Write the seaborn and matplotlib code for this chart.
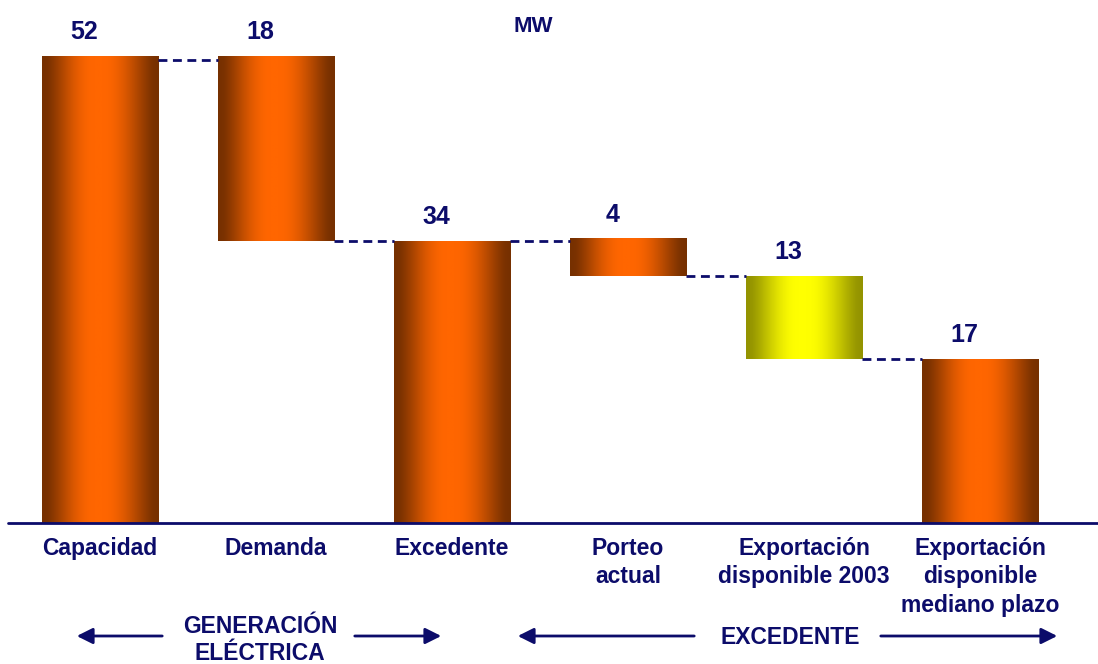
import numpy as np
import matplotlib
matplotlib.use("Agg")
import matplotlib.pyplot as plt
import seaborn as sns
import pandas as pd
from matplotlib.colors import to_rgb

# ---- data ----
categories = ["Capacidad", "Demanda", "Excedente", "Porteo\nactual",
              "Exportación\ndisponible 2003", "Exportación\ndisponible\nmediano plazo"]
bar_low = [0.0, 31.4, 0.0, 27.5, 18.3, 0.0]      # bottom of each bar (as drawn)
bar_high = [52.0, 52.0, 31.4, 31.7, 27.5, 18.3]  # top of each bar (as drawn)
value_labels = ["52", "18", "34", "4", "13", "17"]
bar_kind = ["orange", "orange", "orange", "orange", "yellow", "orange"]
unit_label = "MW"
group_labels = ["GENERACIÓN\nELÉCTRICA", "EXCEDENTE"]

NAVY = "#0c0c6a"
grad = {"orange": ("#763000", "#ff6600"), "yellow": ("#939300", "#ffff00")}

sns.set_theme(style="white")
plt.rcParams["font.family"] = ["Liberation Sans", "DejaVu Sans"]

fig = plt.figure(figsize=(10.98, 6.64), dpi=100)
W, H = 1098, 664
base_px = 523
ax = fig.add_axes([0, (H - base_px) / H, 1, base_px / H])

df = pd.DataFrame({"cat": categories,
                   "h": np.array(bar_high) - np.array(bar_low)})
sns.barplot(data=df, x="cat", y="h", bottom=bar_low, width=0.66,
            color="#ff6600", ax=ax, linewidth=0, saturation=1)

unit = 467 / 52.0
ax.set_ylim(0, base_px / unit)
ax.set_xlim(-100 / 176, (W - 100) / 176)

# gradient fills clipped to bars
t = np.linspace(0, 1, 256)
prof = np.interp(t, [0, 0.05, 0.45, 0.52, 0.95, 1], [0, 0.05, 1, 1, 0.05, 0])
prof = np.sin(prof * np.pi / 2) ** 1.3
for patch, kind in zip(ax.patches, bar_kind):
    patch.set_facecolor("none")
    c0, c1 = np.array(to_rgb(grad[kind][0])), np.array(to_rgb(grad[kind][1]))
    img = c0[None, :] + (c1 - c0)[None, :] * prof[:, None]
    img = img[None, :, :]
    x0, y0 = patch.get_x(), patch.get_y()
    w, h = patch.get_width(), patch.get_height()
    im = ax.imshow(img, extent=(x0, x0 + w, y0, y0 + h), aspect="auto",
                   interpolation="bilinear", zorder=2)
    im.set_clip_path(patch)

# connectors
bars = ax.patches
levels = [bar_high[0] - 0.45, bar_low[1], bar_high[2], bar_low[3], bar_low[4]]
for i, lv in enumerate(levels):
    xa = bars[i].get_x() + bars[i].get_width()
    xb = bars[i + 1].get_x()
    ax.plot([xa, xb], [lv, lv], color=NAVY, lw=2, ls=(0, (3.2, 2.0)), zorder=3)

# baseline
ax.axhline(0, xmin=8 / W, xmax=1, color=NAVY, lw=2, zorder=4, clip_on=False)

# value labels
for i, lab in enumerate(value_labels):
    ax.annotate(lab, (i - 0.09, bar_high[i]), xytext=(0, 17), textcoords="offset points",
                ha="center", va="center", fontsize=18, fontweight="bold", color=NAVY)

for s in ax.spines.values():
    s.set_visible(False)
ax.set_yticks([])
ax.set_xlabel("")
ax.set_ylabel("")
ax.tick_params(axis="x", length=0, pad=10)
ax.set_xticks(range(len(categories)))
ax.set_xticklabels(categories, fontsize=16.5, fontweight="bold", color=NAVY,
                   linespacing=1.3, va="top")

fig.text(533 / W, 1 - 27 / H, unit_label, ha="center", va="center",
         fontsize=16, fontweight="bold", color=NAVY)

# group annotations
fig.text(260 / W, 1 - 640 / H, group_labels[0], ha="center", va="center",
         fontsize=16.5, fontweight="bold", color=NAVY, linespacing=1.25)
fig.text(790 / W, 1 - 638 / H, group_labels[1], ha="center", va="center",
         fontsize=16.5, fontweight="bold", color=NAVY)

arrows = [(165, 74), (352, 444), (697, 515), (878, 1060)]
for xs, xe in arrows:
    fig.add_artist(matplotlib.patches.FancyArrowPatch(
        (xs / W, 1 - 636 / H), (xe / W, 1 - 636 / H), transform=fig.transFigure,
        arrowstyle="-|>", mutation_scale=24, lw=2, color=NAVY))

fig.savefig("out.png", dpi=100)
